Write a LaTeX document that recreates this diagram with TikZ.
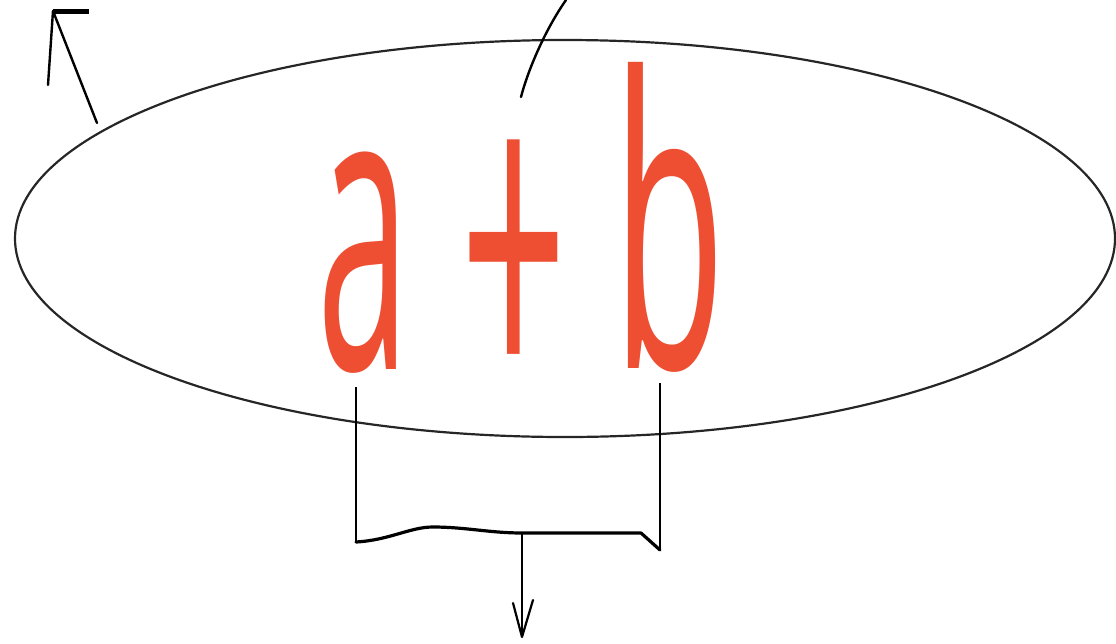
\documentclass[tikz,border=0pt]{standalone}
\usepackage{fontspec}
\setmainfont{Open Sans}
\definecolor{exprred}{RGB}{238,78,50}
\begin{document}
\begin{tikzpicture}[x=1pt,y=-1pt,
  ink/.style={draw=black,line width=2pt,line cap=round,line join=round},
  glyph/.style={text=exprred,inner sep=0pt,outer sep=0pt}]
\useasboundingbox (0,0) rectangle (1116,643);
% ellipse
\coordinate (ell) at (565,238.5);
\draw[black!85,line width=2.2pt] (ell) ellipse [x radius=550, y radius=198.5];
% glyphs
\node[glyph,anchor=north] (a) at (364,152) {\scalebox{1.66}[4.0]{\fontsize{100}{100}\selectfont a}};
\node[glyph,anchor=north] (plus) at (513.5,140) {\scalebox{1.87}[4.43]{\fontsize{100}{100}\selectfont +}};
\node[glyph,anchor=north] (b) at (669,62) {\scalebox{1.85}[4.03]{\fontsize{100}{100}\selectfont b}};
% top-left arrow
\coordinate (tl0) at (97,123);
\coordinate (tltip) at (53,11);
\coordinate (tlh) at (89,11);
\coordinate (tlv) at (48,85);
\draw[ink,line width=2.4pt] (tl0) -- (tltip);
\draw[ink,line width=2.4pt] (tlv) -- (tltip);
\draw[draw=black,line width=5pt] (tltip) -- (tlh);
% top curve
\coordinate (tc0) at (521,97);
\coordinate (tc1) at (566,0);
\draw[ink,line width=2.4pt] (tc0) .. controls (528,70) and (545,30) .. (tc1);
% bracket
\coordinate (bl0) at (356,387);
\coordinate (bl1) at (356,542);
\coordinate (br0) at (660,383);
\coordinate (br1) at (660,550);
\coordinate (bmid) at (522,533);
\draw[ink,line width=2pt,line cap=butt] (bl0) -- (bl1);
\draw[ink,line width=2pt,line cap=butt] (br0) -- (br1);
\draw[ink,line width=3.2pt] (bl1) .. controls (390,540) and (410,527) .. (433,527)
  .. controls (465,527) and (490,533) .. (bmid) -- (641,533) -- (br1);
% down arrow
\coordinate (dtip) at (522,637);
\coordinate (dl) at (513,603);
\coordinate (dr) at (533,600);
\draw[ink,line width=1.8pt,line cap=butt] (bmid) -- (dtip);
\draw[ink,line width=2.2pt] (dl) -- (dtip) -- (dr);
\end{tikzpicture}
\end{document}
